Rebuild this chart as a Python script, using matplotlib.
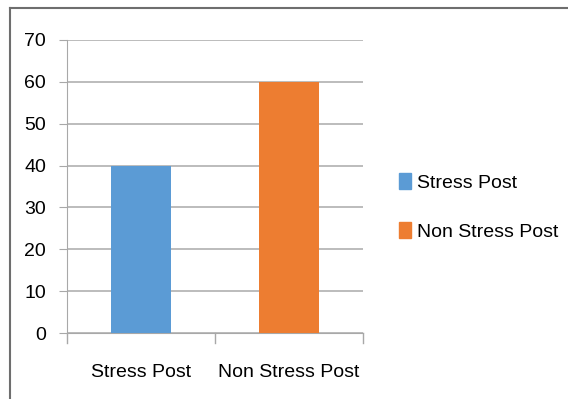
import numpy as np
import matplotlib
matplotlib.use("Agg")
from matplotlib import pyplot as plt
from matplotlib.lines import Line2D
from matplotlib.patches import Patch

plt.rcParams['font.family'] = ['Liberation Sans', 'DejaVu Sans']

categories = ['Stress Post', 'Non Stress Post']
values = [40, 60]
colors = ['#5B9BD5', '#ED7D31']
yticks = [0, 10, 20, 30, 40, 50, 60, 70]

fig = plt.figure(figsize=(5.68, 3.99), dpi=100)
ax = fig.add_axes([67 / 568, 1 - 333 / 399, 296 / 568, 293 / 399])

x = np.arange(len(categories))
ax.bar(x, values, width=0.4, color=colors, zorder=3)
ax.set_xlim(-0.5, len(categories) - 0.5)
ax.set_ylim(0, 70)
ax.set_yticks(yticks)
ax.set_xticks(x)
ax.set_xticklabels(categories, fontsize=14)
ax.tick_params(axis='x', length=0, pad=22)
ax.tick_params(axis='y', length=6, color='#a8a8a8', labelsize=14, pad=9)
ax.grid(axis='y', color='#b0b0b0', linewidth=1.2, zorder=0)
for s in ['top', 'right']:
    ax.spines[s].set_visible(False)
ax.spines['left'].set_color('#a8a8a8')
ax.spines['bottom'].set_color('#a8a8a8')

# category separators below the x axis
for xb in [-0.5, 0.5, 1.5]:
    ax.plot([xb, xb], [0, -0.035 * 70], color='#a8a8a8', lw=1, clip_on=False, zorder=3)

handles = [Patch(color=c) for c in colors]
fig.legend(handles, categories, loc='center left', bbox_to_anchor=(399 / 568, 1 - 207 / 399),
           frameon=False, fontsize=14, handlelength=0.6, handleheight=0.9,
           handletextpad=0.35, labelspacing=1.55, borderpad=0, borderaxespad=0)

# outer frame: top and left edges
fig.add_artist(Line2D([10 / 568, 1], [1 - 8 / 399, 1 - 8 / 399], color='#6e6e6e', lw=1.5))
fig.add_artist(Line2D([10 / 568, 10 / 568], [0, 1 - 8 / 399], color='#6e6e6e', lw=1.5))

fig.savefig('out.png', dpi=100)
